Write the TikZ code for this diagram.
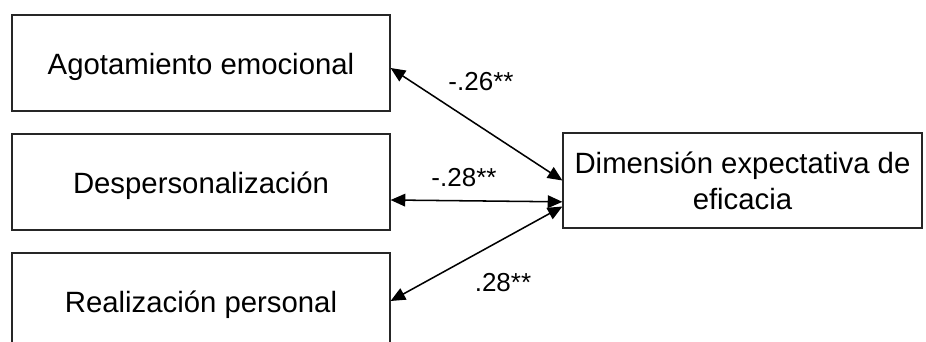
\documentclass[tikz,border=0pt]{standalone}
\usepackage{fontspec}
\setmainfont{Liberation Sans}
\usetikzlibrary{arrows.meta}

\begin{document}
\begin{tikzpicture}[
    x=0.75pt, y=-0.75pt,
    every node/.style={font=\fontsize{22}{27}\selectfont},
    >={Triangle[length=11pt,width=9.5pt]},
    varbox/.style={draw=black!85, line width=0.9pt, inner sep=0pt,
        text height=23pt, text depth=5pt,
        minimum width=283.5pt, minimum height=72pt},
    corr/.style={<->, line width=1.15pt},
    coef/.style={font=\fontsize{19.5}{23}\selectfont, inner sep=0pt},
]

% page size of the original figure (px)
\useasboundingbox (0,0) rectangle (926,342);

% === Burnout dimensions (left column) ===
\node[varbox] (agot) at (201,63)  {Agotamiento emocional};
\node[varbox] (desp) at (201,182) {Despersonalización};
\node[varbox] (real) at (201,301) {Realización personal};

% === Efficacy expectation (right) ===
\node[draw=black!85, line width=0.9pt, inner sep=0pt,
    minimum width=269.25pt, minimum height=71.25pt, align=center]
    (dim) at (742.5,180.5) {Dimensión expectativa de\\eficacia};

% === Correlations ===
\draw[corr] ([yshift=-3.75pt]agot.east) -- ([yshift=0pt]dim.west);
\draw[corr] ([yshift=-13.5pt]desp.east) -- ([yshift=-16pt]dim.west);
\draw[corr] ([yshift=-19.5pt]dim.west) -- ([yshift=0pt]real.east);

% coefficient labels
\node[coef] (rA) at (481,82)  {-.26**};
\node[coef] (rD) at (464,178) {-.28**};
\node[coef] (rR) at (503,283) {.28**};

\end{tikzpicture}
\end{document}
